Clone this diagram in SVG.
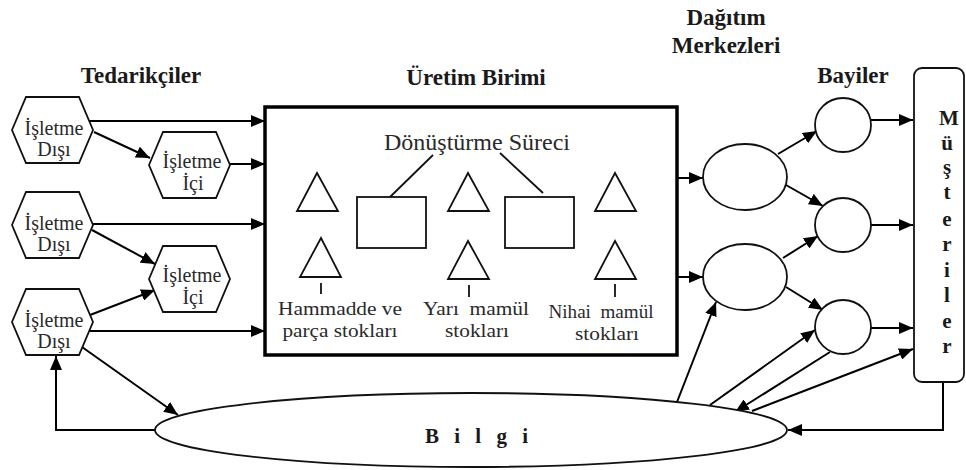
<svg xmlns="http://www.w3.org/2000/svg" width="966" height="470" viewBox="0 0 966 470">
  <defs>
    <marker id="arrow" viewBox="0 0 14 12" refX="14" refY="6" markerWidth="14" markerHeight="12" markerUnits="userSpaceOnUse" orient="auto">
      <path d="M0,0 L14,6 L0,12 z" fill="#000"/>
    </marker>
    <polygon id="hex" points="-40,0 -26,-33 27,-33 41,0 27,33 -26,33"/>
  </defs>
  <style>
    text { font-family: "Liberation Serif", "DejaVu Serif", "Noto Serif", "Times New Roman", Times, serif; }
    .shape { fill: #fff; stroke: #111; stroke-width: 1.8; }
    .box { fill: #fff; stroke: #000; stroke-width: 3.5; }
    .thin { fill: none; stroke: #111; stroke-width: 1.8; }
    .conn { fill: none; stroke: #000; stroke-width: 2; marker-end: url(#arrow); }
    .title { font-weight: bold; font-size: 23px; fill: #1a1a1a; text-anchor: middle; }
    .hexlabel { font-size: 20px; fill: #2a2a2a; text-anchor: middle; }
    .label { font-size: 19px; fill: #2a2a2a; text-anchor: middle; }
    .proc { font-size: 24px; fill: #2a2a2a; text-anchor: middle; }
    .vert { font-weight: bold; font-size: 21px; fill: #1a1a1a; text-anchor: middle; }
  </style>

  <rect width="966" height="470" fill="#fff"/>

  <!-- Section titles -->
  <g id="titles">
    <text class="title" x="141" y="83">Tedarikçiler</text>
    <text class="title" x="476" y="85">Üretim Birimi</text>
    <text class="title" x="726" y="25">Dağıtım</text>
    <text class="title" x="726" y="53">Merkezleri</text>
    <text class="title" x="853" y="83">Bayiler</text>
  </g>

  <!-- Connectors -->
  <g id="connectors">
    <line class="conn" x1="89" y1="121" x2="265" y2="121"/>
    <line class="conn" x1="94" y1="132" x2="150" y2="158"/>
    <line class="conn" x1="230" y1="164" x2="265" y2="164"/>
    <line class="conn" x1="93" y1="224" x2="265" y2="224"/>
    <line class="conn" x1="92" y1="230" x2="155" y2="264"/>
    <line class="conn" x1="90" y1="315" x2="155" y2="290"/>
    <line class="conn" x1="90" y1="331" x2="265" y2="331"/>
    <line class="conn" x1="82" y1="347" x2="178" y2="415"/>
    <path class="conn" d="M156,430 H56 V356"/>
    <line class="conn" x1="677" y1="178" x2="703" y2="178"/>
    <line class="conn" x1="677" y1="277" x2="703" y2="277"/>
    <line class="conn" x1="778" y1="154" x2="817" y2="131"/>
    <line class="conn" x1="786" y1="185" x2="823" y2="206"/>
    <line class="conn" x1="783" y1="258" x2="818" y2="236"/>
    <line class="conn" x1="786" y1="287" x2="823" y2="310"/>
    <line class="conn" x1="870" y1="120" x2="913" y2="120"/>
    <line class="conn" x1="871" y1="225" x2="913" y2="225"/>
    <line class="conn" x1="871" y1="328" x2="913" y2="328"/>
    <line class="conn" x1="677" y1="402" x2="716" y2="302"/>
    <line class="conn" x1="710" y1="405" x2="815" y2="330"/>
    <line class="conn" x1="830" y1="352" x2="735" y2="412"/>
    <line class="conn" x1="752" y1="411" x2="913" y2="349"/>
    <path class="conn" d="M943,382 V430 H788"/>
  </g>

  <!-- Suppliers -->
  <g id="supplier-external-1">
    <use href="#hex" class="shape" x="52" y="130"/>
    <text class="hexlabel" x="54" y="135">İşletme</text>
    <text class="hexlabel" x="54" y="156">Dışı</text>
  </g>
  <g id="supplier-internal-1">
    <use href="#hex" class="shape" x="189" y="165"/>
    <text class="hexlabel" x="192" y="168">İşletme</text>
    <text class="hexlabel" x="193" y="190">İçi</text>
  </g>
  <g id="supplier-external-2">
    <use href="#hex" class="shape" x="52" y="225"/>
    <text class="hexlabel" x="54" y="230">İşletme</text>
    <text class="hexlabel" x="54" y="251">Dışı</text>
  </g>
  <g id="supplier-internal-2">
    <use href="#hex" class="shape" x="189" y="279"/>
    <text class="hexlabel" x="192" y="282">İşletme</text>
    <text class="hexlabel" x="193" y="304">İçi</text>
  </g>
  <g id="supplier-external-3">
    <use href="#hex" class="shape" x="52" y="322"/>
    <text class="hexlabel" x="54" y="327">İşletme</text>
    <text class="hexlabel" x="54" y="348">Dışı</text>
  </g>

  <!-- Production unit -->
  <g id="production-unit">
    <rect class="box" x="265" y="107" width="412" height="248"/>
    <text class="proc" x="477" y="150">Dönüştürme Süreci</text>
    <line class="thin" x1="433" y1="155" x2="390" y2="197"/>
    <line class="thin" x1="500" y1="153" x2="543" y2="193"/>
    <rect class="shape" x="357" y="197" width="69" height="51"/>
    <rect class="shape" x="505" y="197" width="69" height="51"/>
    <polygon class="shape" points="317,173 297,211 338,211"/>
    <polygon class="shape" points="468,173 448,211 489,211"/>
    <polygon class="shape" points="615,173 595,211 636,211"/>
    <polygon class="shape" points="321,238 300,277 341,277"/>
    <polygon class="shape" points="468,241 448,279 489,279"/>
    <polygon class="shape" points="615,241 595,279 636,279"/>
    <line class="thin" x1="321" y1="283" x2="321" y2="294"/>
    <line class="thin" x1="469" y1="285" x2="469" y2="297"/>
    <line class="thin" x1="615" y1="284" x2="615" y2="297"/>
    <text class="label" x="340" y="315" textLength="124" lengthAdjust="spacingAndGlyphs">Hammadde ve</text>
    <text class="label" x="340" y="337" textLength="115" lengthAdjust="spacingAndGlyphs">parça stokları</text>
    <text class="label" x="476" y="315" xml:space="preserve" textLength="106" lengthAdjust="spacingAndGlyphs">Yarı  mamül</text>
    <text class="label" x="477" y="337" textLength="64" lengthAdjust="spacingAndGlyphs">stokları</text>
    <text class="label" x="601" y="318" xml:space="preserve" textLength="105" lengthAdjust="spacingAndGlyphs">Nihai  mamül</text>
    <text class="label" x="607" y="340" textLength="64" lengthAdjust="spacingAndGlyphs">stokları</text>
  </g>

  <!-- Distribution centres -->
  <g id="distribution-center-1">
    <ellipse class="shape" cx="745" cy="177" rx="42" ry="33"/>
  </g>
  <g id="distribution-center-2">
    <ellipse class="shape" cx="745" cy="277" rx="42" ry="33"/>
  </g>

  <!-- Dealers -->
  <g id="dealer-1">
    <ellipse class="shape" cx="843" cy="125" rx="28" ry="27"/>
  </g>
  <g id="dealer-2">
    <ellipse class="shape" cx="843" cy="225" rx="28" ry="27"/>
  </g>
  <g id="dealer-3">
    <ellipse class="shape" cx="843" cy="327" rx="28" ry="27"/>
  </g>

  <!-- Customers -->
  <g id="customers">
    <rect class="shape" x="914" y="68" width="50" height="314" rx="8" ry="8"/>
    <text class="vert" x="949" y="125">M</text>
    <text class="vert" x="947" y="150">ü</text>
    <text class="vert" x="947" y="174">ş</text>
    <text class="vert" x="947" y="199">t</text>
    <text class="vert" x="947" y="226">e</text>
    <text class="vert" x="947" y="251">r</text>
    <text class="vert" x="947" y="277">i</text>
    <text class="vert" x="947" y="302">l</text>
    <text class="vert" x="947" y="328">e</text>
    <text class="vert" x="947" y="353">r</text>
  </g>

  <!-- Information -->
  <g id="information">
    <ellipse class="shape" cx="471" cy="430" rx="316" ry="37"/>
    <text class="vert" x="425" y="443" style="text-anchor:start" letter-spacing="5" xml:space="preserve">B i l g i</text>
  </g>
</svg>
